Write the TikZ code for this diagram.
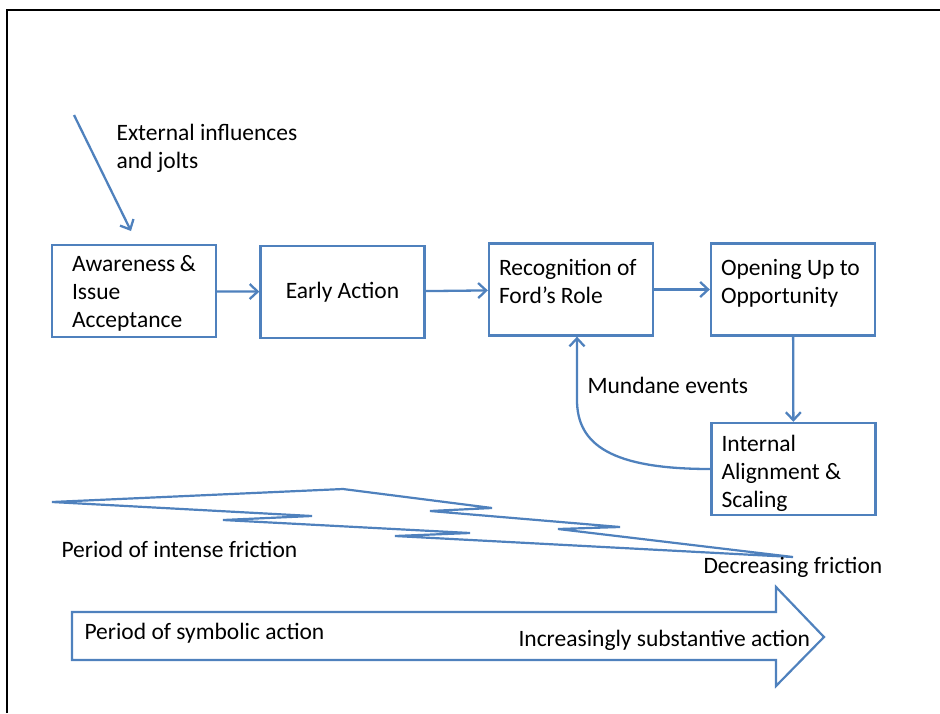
\documentclass[tikz,border=0pt]{standalone}
\usepackage{fontspec}
\setmainfont{Carlito}
\usetikzlibrary{arrows.meta}
\definecolor{frblue}{RGB}{79,129,189}

\begin{document}
\begin{tikzpicture}[x=1pt, y=-1pt, font=\fontsize{23.5}{28}\selectfont,
    stage/.style={draw=frblue, line width=2.3pt, align=flush left, text width=144pt,
        inner xsep=10pt, inner ysep=0pt, minimum height=92pt},
    flow/.style={draw=frblue, line width=2.3pt, -{Straight Barb[length=8pt, width=15pt]}},
    band/.style={draw=frblue, line width=2.2pt, line join=miter}]

    \useasboundingbox (0,0) rectangle (940,713);

    % Frame
    \draw[line width=2.6pt] (7,713) -- (7,10) -- (940,10);

    % Stages
    \node[stage, text width=124pt, inner xsep=20pt, text depth=55pt] (aware) at (134,291) {Awareness~\&\\Issue\\Acceptance};
    \node[stage, align=flush center] (early) at (342.5,292) {Early Action};
    \node[stage, text depth=44pt] (recog) at (571,289.5) {Recognition of\\Ford’s Role};
    \node[stage, text depth=44pt] (open) at (793,289.5) {Opening Up to\\Opportunity};
    \node[stage, text depth=51pt] (intern) at (793.5,469) {Internal\\Alignment \&\\Scaling};

    % Arrows between stages
    \foreach \a/\b in {aware/early, early/recog, recog/open}
    {
        \draw[flow] (\a) -- (\b);
    }
    \draw[flow] (open) -- (intern);

    % External influences
    \coordinate (jolt) at (74,115);
    \coordinate (joltend) at (131,231);
    \draw[flow] (jolt) -- (joltend);
    \node[anchor=west, align=left] (extlbl) at (113,148) {External influences\\and jolts};

    % Mundane events loop
    \draw[flow] (intern.west) .. controls (612,469) and (577,445) .. (577,400)
        -- ([xshift=6pt]recog.south);
    \node[anchor=west] (mundane) at (584,385) {Mundane events};

    % Friction wedge
    \draw[band] (52,502) -- (343,489) -- (492,508) -- (430,511) -- (620,527)
        -- (558,529) -- (793,557) -- (395,536) -- (470,533) -- (223,520)
        -- (312,516) -- cycle;
    \node[anchor=west] (intense) at (58,549) {Period of intense friction};
    \node[anchor=west] (decr) at (700,567) {Decreasing friction};

    % Action arrow
    \draw[band] (72,612) -- (776,612) -- (776,587) -- (824,637) -- (776,686)
        -- (776,660) -- (72,660) -- cycle;
    \node[anchor=west] (symb) at (81,633) {Period of symbolic action};
    \node[anchor=west] (subst) at (515,640) {Increasingly substantive action};

\end{tikzpicture}
\end{document}
